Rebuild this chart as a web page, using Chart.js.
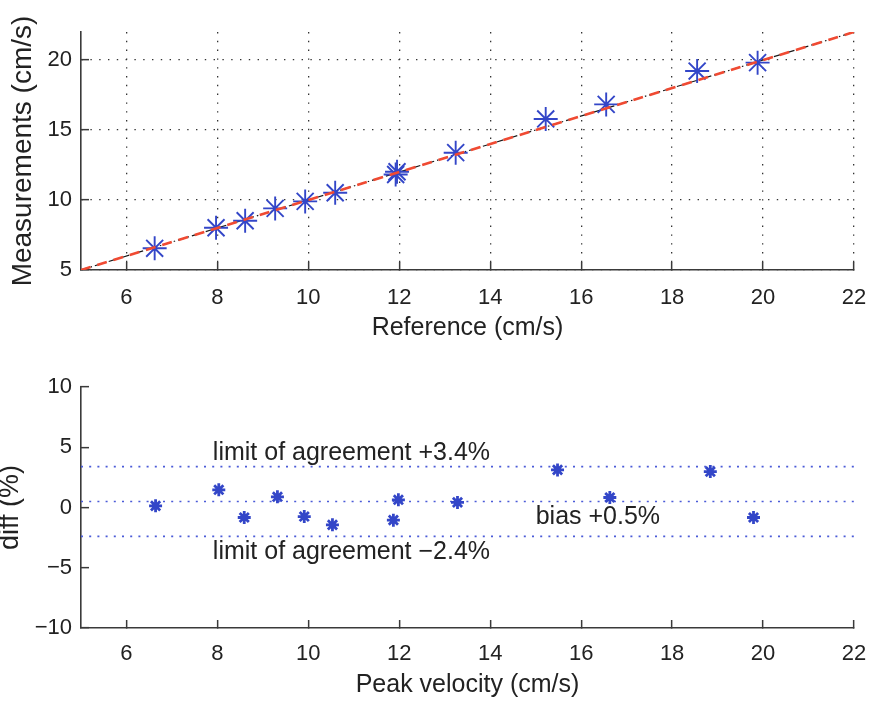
<!DOCTYPE html>
<html>
<head>
<meta charset="utf-8">
<script src="https://cdn.jsdelivr.net/npm/chart.js@4.4.0/dist/chart.umd.min.js"></script>
<style>
  html, body { margin: 0; padding: 0; background: #ffffff; }
  #wrap { position: relative; width: 874px; height: 705px; }
  canvas { position: absolute; left: 0; }
  #agreement { top: 0; }
  #blandAltman { top: 345px; }
</style>
</head>
<body>
<div id="wrap">
  <canvas id="agreement" width="874" height="345"></canvas>
  <canvas id="blandAltman" width="874" height="360"></canvas>
</div>
<script>
// Peak velocity: reference vs. measurement (cm/s)
const referenceVel = [6.62, 7.97, 8.61, 9.27, 9.93, 10.59, 11.92, 11.95, 13.24, 15.22, 16.55, 18.55, 19.88];
const measuredVel  = [6.55, 8.02, 8.52, 9.40, 9.90, 10.52, 11.82, 12.02, 13.38, 15.79, 16.83, 19.21, 19.81];

// Bland-Altman: mean velocity (cm/s) and difference (%)
const meanVel = [6.64, 8.03, 8.59, 9.32, 9.91, 10.53, 11.87, 11.98, 13.28, 15.48, 16.63, 18.84, 19.79];
const diffPct = [0.14, 1.47, -0.83, 0.89, -0.75, -1.44, -1.05, 0.64, 0.42, 3.12, 0.83, 2.98, -0.83];

// Identity line and agreement statistics
const identityX = [5, 22];
const biasPct = 0.5;
const loaUpperPct = 3.4;
const loaLowerPct = -2.4;

// Tick labels
const velocityTicks = [6, 8, 10, 12, 14, 16, 18, 20, 22];
const measurementTicks = [5, 10, 15, 20];
const diffTicks = [-10, -5, 0, 5, 10];

const FONT = '"Liberation Sans", Arial, Helvetica, sans-serif';
const INK = '#222222';
const AXIS = '#3a3a3a';
const BLUE = '#3346c8';
const minus = v => String(v).replace('-', '\u2212');

function setTicks(values) {
  return scale => { scale.ticks = values.map(v => ({ value: v })); };
}

function baseAxis(cfg) {
  const horizontal = cfg.horizontal;
  return {
    type: 'linear',
    min: cfg.min,
    max: cfg.max,
    afterBuildTicks: setTicks(cfg.ticks),
    afterFit: s => {
      if (horizontal) { s.height = cfg.size; s.paddingLeft = 0; s.paddingRight = 0; }
      else { s.width = cfg.size; s.paddingTop = 0; s.paddingBottom = 0; }
    },
    grid: {
      display: true,
      drawOnChartArea: cfg.dots,
      drawTicks: true,
      tickLength: -8,
      tickColor: AXIS,
      tickWidth: 1.5,
      color: '#333333',
      lineWidth: 1.3
    },
    border: { display: true, color: AXIS, width: 1.6, dash: [1.4, 7.4] },
    ticks: {
      color: INK,
      padding: cfg.tickPad,
      font: { family: FONT, size: 22 },
      callback: v => minus(v),
      maxRotation: 0,
      autoSkip: false
    },
    title: {
      display: true,
      text: cfg.title,
      color: INK,
      font: { family: FONT, size: cfg.titleSize, lineHeight: cfg.titleLine },
      padding: horizontal ? { top: 0, bottom: cfg.titlePad } : { top: cfg.titlePad, bottom: 0 }
    }
  };
}

const common = {
  responsive: false,
  animation: false,
  events: [],
  plugins: { legend: { display: false }, tooltip: { enabled: false } }
};

// Upper panel: measurement against reference with identity lines
new Chart(document.getElementById('agreement'), {
  type: 'scatter',
  data: {
    datasets: [
      {
        type: 'line',
        data: identityX.map(v => ({ x: v, y: v })),
        borderColor: '#f04a32',
        borderWidth: 2.6,
        borderDash: [10, 7],
        pointRadius: 0,
        order: 0
      },
      {
        type: 'scatter',
        data: referenceVel.map((v, i) => ({ x: v, y: measuredVel[i] })),
        pointStyle: 'star',
        pointRadius: 12,
        borderColor: BLUE,
        backgroundColor: BLUE,
        pointBorderWidth: 1.9,
        order: 1
      },
      {
        type: 'line',
        data: identityX.map(v => ({ x: v, y: v })),
        borderColor: '#1a1a1a',
        borderWidth: 1.2,
        borderDash: [7, 3, 1.5, 3],
        pointRadius: 0,
        order: 2
      }
    ]
  },
  options: Object.assign({}, common, {
    layout: { padding: { top: 32, right: 20, left: 0, bottom: 0 } },
    scales: {
      x: baseAxis({ horizontal: true, min: 5, max: 22, ticks: velocityTicks, title: 'Reference (cm/s)',
                    titleSize: 25, titleLine: 1.2, titlePad: 2, tickPad: 23, size: 75, dots: true }),
      y: baseAxis({ horizontal: false, min: 5, max: 22, ticks: measurementTicks, title: 'Measurements (cm/s)',
                    titleSize: 28, titleLine: 1.2, titlePad: 6, tickPad: 17, size: 81, dots: true })
    }
  })
});

// Lower panel: difference against mean with bias and limits of agreement
const agreementLabels = {
  id: 'agreementLabels',
  afterDatasetsDraw(chart) {
    const { ctx, scales: { x, y } } = chart;
    ctx.save();
    ctx.fillStyle = INK;
    ctx.font = '25px ' + FONT;
    ctx.textAlign = 'left';
    ctx.textBaseline = 'middle';
    ctx.fillText('limit of agreement +' + loaUpperPct.toFixed(1) + '%', x.getPixelForValue(7.9), y.getPixelForValue(4.5));
    ctx.fillText('limit of agreement ' + minus(loaLowerPct.toFixed(1)) + '%', x.getPixelForValue(7.9), y.getPixelForValue(-3.7));
    ctx.fillText('bias +' + biasPct.toFixed(1) + '%', x.getPixelForValue(15.0), y.getPixelForValue(-0.8));
    ctx.restore();
  }
};

function hLine(value) {
  return {
    type: 'line',
    data: identityX.map(v => ({ x: v, y: value })),
    borderColor: '#4b5bd8',
    borderWidth: 1.7,
    borderDash: [2, 6.2],
    pointRadius: 0,
    order: 2
  };
}

new Chart(document.getElementById('blandAltman'), {
  type: 'scatter',
  data: {
    datasets: [
      hLine(loaUpperPct),
      hLine(biasPct),
      hLine(loaLowerPct),
      {
        type: 'scatter',
        data: meanVel.map((v, i) => ({ x: v, y: diffPct[i] })),
        pointStyle: 'star',
        pointRadius: 6.5,
        borderColor: BLUE,
        backgroundColor: BLUE,
        pointBorderWidth: 2.8,
        order: 1
      }
    ]
  },
  options: Object.assign({}, common, {
    layout: { padding: { top: 42, right: 20, left: 0, bottom: 0 } },
    scales: {
      x: baseAxis({ horizontal: true, min: 5, max: 22, ticks: velocityTicks, title: 'Peak velocity (cm/s)',
                    titleSize: 25, titleLine: 1.2, titlePad: 5, tickPad: 21, size: 77, dots: false }),
      y: baseAxis({ horizontal: false, min: -10, max: 10, ticks: diffTicks, title: 'diff (%)',
                    titleSize: 27, titleLine: 0.8, titlePad: 0, tickPad: 17, size: 81, dots: false })
    }
  }),
  plugins: [agreementLabels]
});
</script>
</body>
</html>
